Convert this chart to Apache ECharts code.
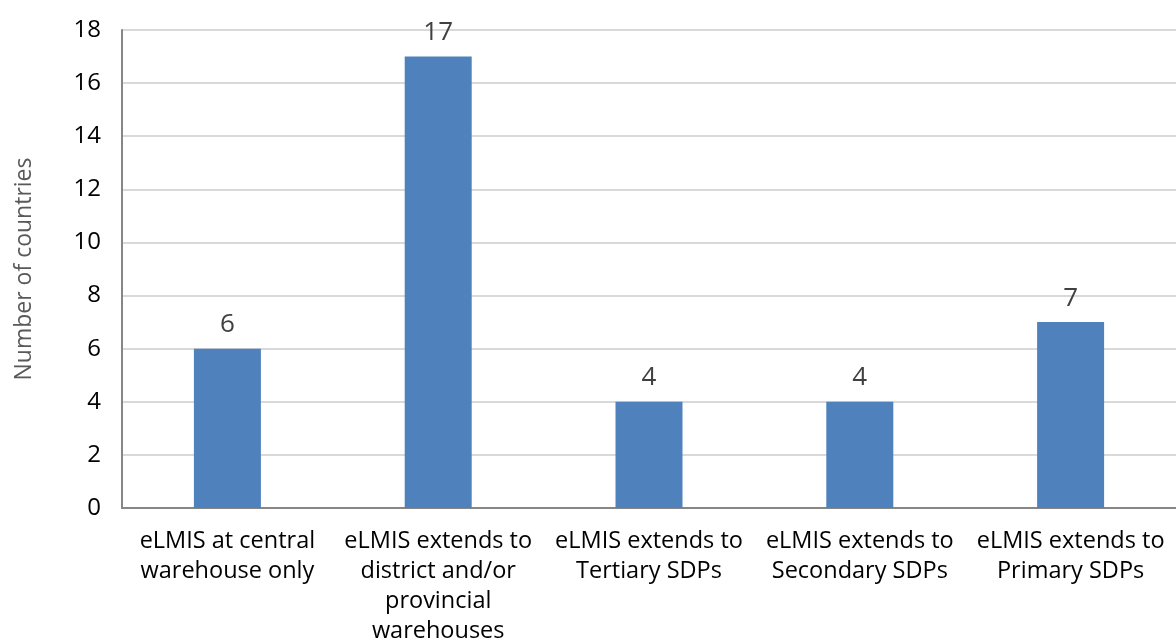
<!DOCTYPE html>
<html>
<head>
<meta charset="utf-8">
<script src="https://cdn.jsdelivr.net/npm/echarts@6/dist/echarts.min.js"></script>
<style>
  html, body { margin: 0; padding: 0; background: #fff; }
  #chart { width: 1176px; height: 639px; }
</style>
</head>
<body>
<div id="chart"></div>
<script>
// categories along the x axis
var categories = [
	'eLMIS at central\nwarehouse only',
	'eLMIS extends to\ndistrict and/or\nprovincial\nwarehouses',
	'eLMIS extends to\nTertiary SDPs',
	'eLMIS extends to\nSecondary SDPs',
	'eLMIS extends to\nPrimary SDPs'
];
// number of countries per category
var countries = [6, 17, 4, 4, 7];

var chart = echarts.init(document.getElementById('chart'));

var font = '"Open Sans", "Noto Sans", sans-serif';

var option = {
	animation : false,
	textStyle : { fontFamily : font },
	grid : {
		left : 122,
		right : 0,
		top : 30,
		bottom : 131,
		containLabel : false,
		outerBoundsMode : 'none'
	},
	xAxis : {
		type : 'category',
		data : categories,
		axisLine : { lineStyle : { color : '#868686', width : 2 } },
		axisTick : { show : false },
		axisLabel : {
			color : '#000',
			fontSize : 23.5,
			lineHeight : 30,
			margin : 18,
			interval : 0,
			fontFamily : font
		}
	},
	yAxis : {
		type : 'value',
		min : 0,
		max : 18,
		interval : 2,
		name : 'Number of countries',
		nameLocation : 'middle',
		nameGap : 86,
		nameTextStyle : { color : '#595959', fontSize : 23, fontFamily : font },
		axisLine : { show : true, lineStyle : { color : '#868686', width : 2 } },
		axisTick : { show : false },
		splitLine : { lineStyle : { color : '#d9d9d9', width : 2 } },
		axisLabel : {
			color : '#000',
			fontSize : 24,
			margin : 21,
			fontFamily : font
		}
	},
	series : [{
		name : 'Number of countries',
		type : 'bar',
		data : countries,
		barWidth : 67,
		itemStyle : { color : '#4F81BD' },
		label : {
			show : true,
			position : 'top',
			distance : 11,
			color : '#404040',
			fontSize : 26,
			fontFamily : font
		}
	}]
};

chart.setOption(option);
</script>
</body>
</html>
